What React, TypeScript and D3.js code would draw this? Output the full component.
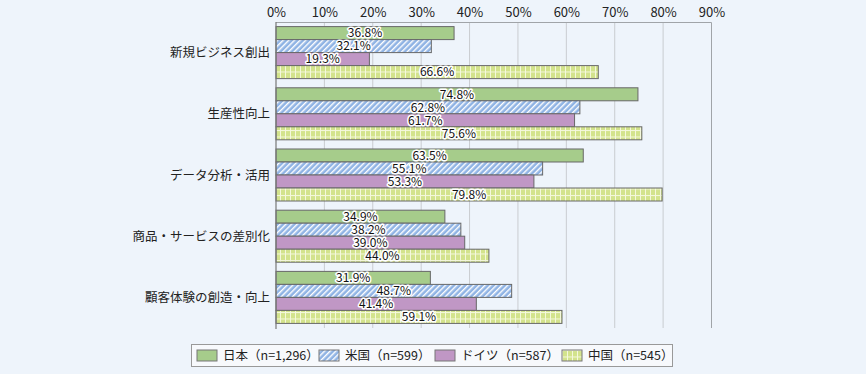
import React, { useEffect, useRef } from 'react';
import * as d3 from 'd3';

const CATEGORIES = ['新規ビジネス創出', '生産性向上', 'データ分析・活用', '商品・サービスの差別化', '顧客体験の創造・向上'];
const SERIES = ['日本（n=1,296）', '米国（n=599）', 'ドイツ（n=587）', '中国（n=545）'];
const JAPAN = [36.8, 74.8, 63.5, 34.9, 31.9];
const USA = [32.1, 62.8, 55.1, 38.2, 48.7];
const GERMANY = [19.3, 61.7, 53.3, 39.0, 41.4];
const CHINA = [66.6, 75.6, 79.8, 44.0, 59.1];
const TICKS = [0, 10, 20, 30, 40, 50, 60, 70, 80, 90];

const FONT = '"Noto Sans CJK JP", "Noto Sans", sans-serif';
const BG = '#eef4fb';

export default function App() {
  const ref = useRef<SVGSVGElement>(null);

  useEffect(() => {
    const svgEl = ref.current;
    if (!svgEl) return;
    const W = 866;
    const H = 374;
    const svg = d3.select(svgEl).attr('width', W).attr('height', H);
    svg.selectAll('*').remove();
    document.body.style.background = BG;

    svg.append('rect').attr('width', W).attr('height', H).attr('fill', BG);

    // patterns
    const defs = svg.append('defs');
    const hatch = defs
      .append('pattern')
      .attr('id', 'hatch')
      .attr('patternUnits', 'userSpaceOnUse')
      .attr('width', 4)
      .attr('height', 4)
      .attr('patternTransform', 'rotate(45)');
    hatch.append('rect').attr('width', 4).attr('height', 4).attr('fill', '#8fb3e4');
    hatch.append('rect').attr('width', 1.4).attr('height', 4).attr('fill', '#ffffff');

    const grid = defs
      .append('pattern')
      .attr('id', 'grid')
      .attr('patternUnits', 'userSpaceOnUse')
      .attr('width', 5)
      .attr('height', 6.5);
    grid.append('rect').attr('width', 5).attr('height', 6.5).attr('fill', '#d3e38c');
    grid.append('rect').attr('x', 0).attr('width', 1).attr('height', 6.5).attr('fill', '#f4f8dc');
    grid.append('rect').attr('y', 0).attr('width', 5).attr('height', 1).attr('fill', '#f4f8dc');

    const fills = ['#a6cc8b', 'url(#hatch)', '#c097c5', 'url(#grid)'];
    const swatchFills = fills;

    const x = d3.scaleLinear().domain([0, 90]).range([276, 711.5]);
    const y = d3.scaleBand().domain(CATEGORIES).range([22, 328]).paddingInner(0.15).paddingOuter(0.075);
    const sub = d3.scaleBand().domain(SERIES).range([0, y.bandwidth()]);

    // gridlines
    svg
      .append('g')
      .selectAll('line')
      .data(TICKS.slice(1, -1))
      .join('line')
      .attr('x1', (d) => x(d))
      .attr('x2', (d) => x(d))
      .attr('y1', 22)
      .attr('y2', 328)
      .attr('stroke', '#c9ccd0')
      .attr('stroke-width', 1);

    // frame top / right
    svg
      .append('path')
      .attr('d', `M${x(0)},22.5H${x(90)}V328`)
      .attr('fill', 'none')
      .attr('stroke', '#a0a4a8')
      .attr('stroke-width', 1);

    // top axis labels
    const axis = d3
      .axisTop(x)
      .tickValues(TICKS)
      .tickSize(0)
      .tickPadding(0)
      .tickFormat((d) => `${d}%`);
    svg
      .append('g')
      .attr('transform', 'translate(0,17)')
      .call(axis)
      .call((s) => s.select('.domain').remove())
      .call((s) =>
        s.selectAll('text').attr('fill', '#222').attr('font-size', 13).attr('font-family', FONT)
      );

    const seriesData = [JAPAN, USA, GERMANY, CHINA];
    const rows = CATEGORIES.flatMap((c, ci) =>
      SERIES.map((s, si) => ({ c, s, si, v: seriesData[si][ci] }))
    );

    const g = svg.append('g');
    g.selectAll('rect')
      .data(rows)
      .join('rect')
      .attr('x', x(0))
      .attr('y', (d) => (y(d.c) ?? 0) + (sub(d.s) ?? 0))
      .attr('width', (d) => x(d.v) - x(0))
      .attr('height', sub.bandwidth())
      .attr('fill', (d) => fills[d.si])
      .attr('stroke', '#686868')
      .attr('stroke-width', 1);

    g.selectAll('text.value')
      .data(rows)
      .join('text')
      .attr('class', 'value')
      .attr('x', (d) => (x(0) + x(d.v)) / 2)
      .attr('y', (d) => (y(d.c) ?? 0) + (sub(d.s) ?? 0) + sub.bandwidth() / 2)
      .attr('dy', '0.36em')
      .attr('text-anchor', 'middle')
      .attr('font-family', FONT)
      .attr('font-size', 12)
      .attr('fill', '#111')
      .attr('stroke', '#ffffff')
      .attr('stroke-width', 3)
      .attr('stroke-linejoin', 'round')
      .attr('paint-order', 'stroke')
      .text((d) => `${d.v.toFixed(1)}%`);

    // left axis line
    svg
      .append('line')
      .attr('x1', x(0))
      .attr('x2', x(0))
      .attr('y1', 22)
      .attr('y2', 329)
      .attr('stroke', '#777')
      .attr('stroke-width', 1.2);

    // category labels
    svg
      .append('g')
      .selectAll('text')
      .data(CATEGORIES)
      .join('text')
      .attr('x', 270)
      .attr('y', (d) => (y(d) ?? 0) + y.bandwidth() / 2)
      .attr('dy', '0.36em')
      .attr('text-anchor', 'end')
      .attr('font-family', FONT)
      .attr('font-size', 12.5)
      .attr('fill', '#222')
      .text((d) => d);

    // legend
    const legend = svg.append('g');
    legend
      .append('rect')
      .attr('x', 191.5)
      .attr('y', 344.5)
      .attr('width', 481)
      .attr('height', 22)
      .attr('fill', '#f7f9fc')
      .attr('stroke', '#999');
    const legendX = [197, 319, 435, 562];
    const items = legend
      .selectAll('g')
      .data(SERIES)
      .join('g')
      .attr('transform', (_d, i) => `translate(${legendX[i]},350)`);
    items
      .append('rect')
      .attr('width', 20)
      .attr('height', 11)
      .attr('fill', (_d, i) => swatchFills[i])
      .attr('stroke', '#777');
    items
      .append('text')
      .attr('x', 26)
      .attr('y', 5.5)
      .attr('dy', '0.36em')
      .attr('font-family', FONT)
      .attr('font-size', 12.5)
      .attr('fill', '#222')
      .text((d) => d);
  }, []);

  return (
    <svg
      ref={ref}
      style={{ position: 'absolute', left: 0, top: 0, display: 'block' }}
      aria-label="DX目的の国別比較"
    />
  );
}
